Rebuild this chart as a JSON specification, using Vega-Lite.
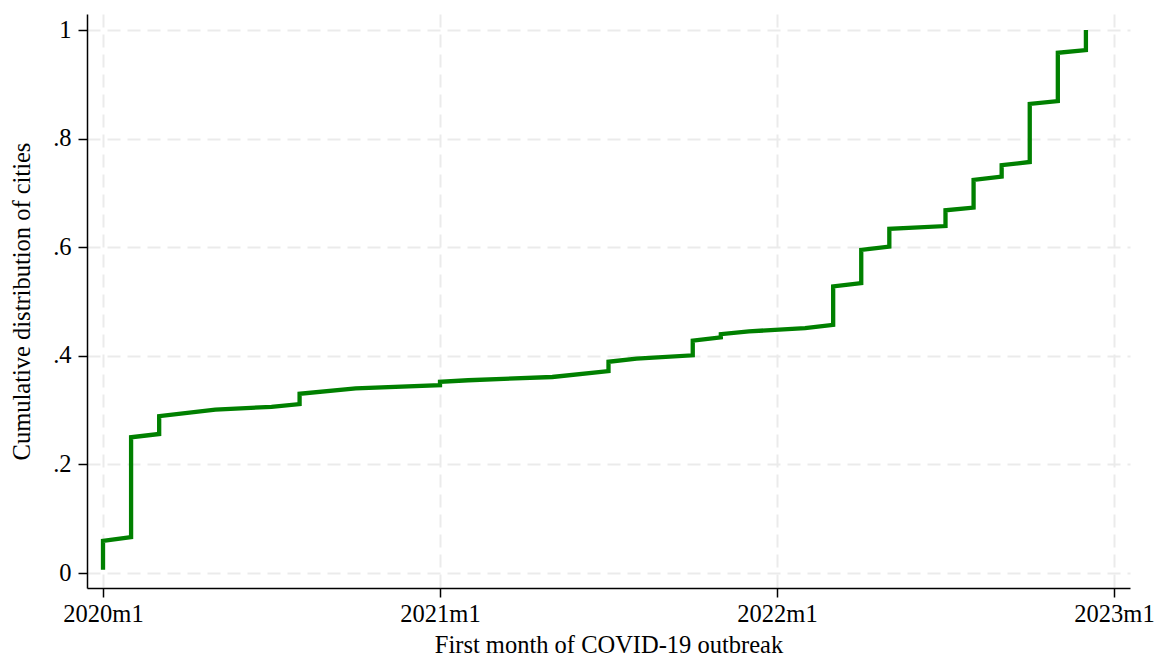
{
  "$schema": "https://vega.github.io/schema/vega-lite/v6.json",
  "width": 1043,
  "height": 574,
  "autosize": "none",
  "padding": {"left": 87, "top": 14, "right": 25, "bottom": 70},
  "background": "white",
  "config": {
    "view": {"stroke": null},
    "font": "Liberation Serif",
    "axis": {
      "labelFont": "Liberation Serif",
      "titleFont": "Liberation Serif",
      "labelFontSize": 24.5,
      "titleFontSize": 24.5,
      "titleFontWeight": "normal",
      "labelColor": "#000000",
      "titleColor": "#000000",
      "domainColor": "#000000",
      "domainWidth": 1.5,
      "tickColor": "#000000",
      "tickWidth": 1.5,
      "tickSize": 9,
      "grid": true,
      "gridColor": "#ebebeb",
      "gridWidth": 2,
      "gridDash": [13, 7]
    }
  },
  "data": {
    "values": [
      {"step": 1, "month": 0, "cdf": 0.006},
      {"step": 2, "month": 0, "cdf": 0.059},
      {"step": 3, "month": 1, "cdf": 0.066},
      {"step": 4, "month": 1, "cdf": 0.25},
      {"step": 5, "month": 2, "cdf": 0.256},
      {"step": 6, "month": 2, "cdf": 0.289},
      {"step": 7, "month": 4, "cdf": 0.301},
      {"step": 8, "month": 6, "cdf": 0.306},
      {"step": 9, "month": 7, "cdf": 0.311},
      {"step": 10, "month": 7, "cdf": 0.33},
      {"step": 11, "month": 9, "cdf": 0.34},
      {"step": 12, "month": 12, "cdf": 0.346},
      {"step": 13, "month": 12, "cdf": 0.352},
      {"step": 14, "month": 13, "cdf": 0.355},
      {"step": 15, "month": 16, "cdf": 0.361},
      {"step": 16, "month": 18, "cdf": 0.372},
      {"step": 17, "month": 18, "cdf": 0.389},
      {"step": 18, "month": 19, "cdf": 0.395},
      {"step": 19, "month": 21, "cdf": 0.401},
      {"step": 20, "month": 21, "cdf": 0.428},
      {"step": 21, "month": 22, "cdf": 0.434},
      {"step": 22, "month": 22, "cdf": 0.44},
      {"step": 23, "month": 23, "cdf": 0.445},
      {"step": 24, "month": 25, "cdf": 0.451},
      {"step": 25, "month": 26, "cdf": 0.457},
      {"step": 26, "month": 26, "cdf": 0.528},
      {"step": 27, "month": 27, "cdf": 0.534},
      {"step": 28, "month": 27, "cdf": 0.595},
      {"step": 29, "month": 28, "cdf": 0.601},
      {"step": 30, "month": 28, "cdf": 0.634},
      {"step": 31, "month": 30, "cdf": 0.639},
      {"step": 32, "month": 30, "cdf": 0.668},
      {"step": 33, "month": 31, "cdf": 0.673},
      {"step": 34, "month": 31, "cdf": 0.724},
      {"step": 35, "month": 32, "cdf": 0.73},
      {"step": 36, "month": 32, "cdf": 0.751},
      {"step": 37, "month": 33, "cdf": 0.757},
      {"step": 38, "month": 33, "cdf": 0.864},
      {"step": 39, "month": 34, "cdf": 0.869},
      {"step": 40, "month": 34, "cdf": 0.958},
      {"step": 41, "month": 35, "cdf": 0.963},
      {"step": 42, "month": 35, "cdf": 1.0}
    ]
  },
  "mark": {"type": "line", "color": "#008000", "strokeWidth": 4.3, "strokeJoin": "miter", "strokeCap": "butt"},
  "encoding": {
    "x": {
      "field": "month",
      "type": "quantitative",
      "scale": {"domain": [-0.57, 36.57], "nice": false, "zero": false},
      "axis": {
        "values": [0, 12, 24, 36],
        "labelExpr": "(2020 + datum.value / 12) + 'm1'",
        "labelPadding": 5,
        "title": "First month of COVID-19 outbreak",
        "titlePadding": 8
      }
    },
    "y": {
      "field": "cdf",
      "type": "quantitative",
      "scale": {"domain": [-0.0276, 1.0295], "nice": false, "zero": false},
      "axis": {
        "values": [0, 0.2, 0.4, 0.6, 0.8, 1],
        "labelExpr": "datum.value == 0 ? '0' : datum.value == 1 ? '1' : replace(format(datum.value, '.1f'), '0.', '.')",
        "labelPadding": 7,
        "title": "Cumulative distribution of cities",
        "titlePadding": 18
      }
    },
    "order": {"field": "step", "type": "quantitative"}
  }
}
